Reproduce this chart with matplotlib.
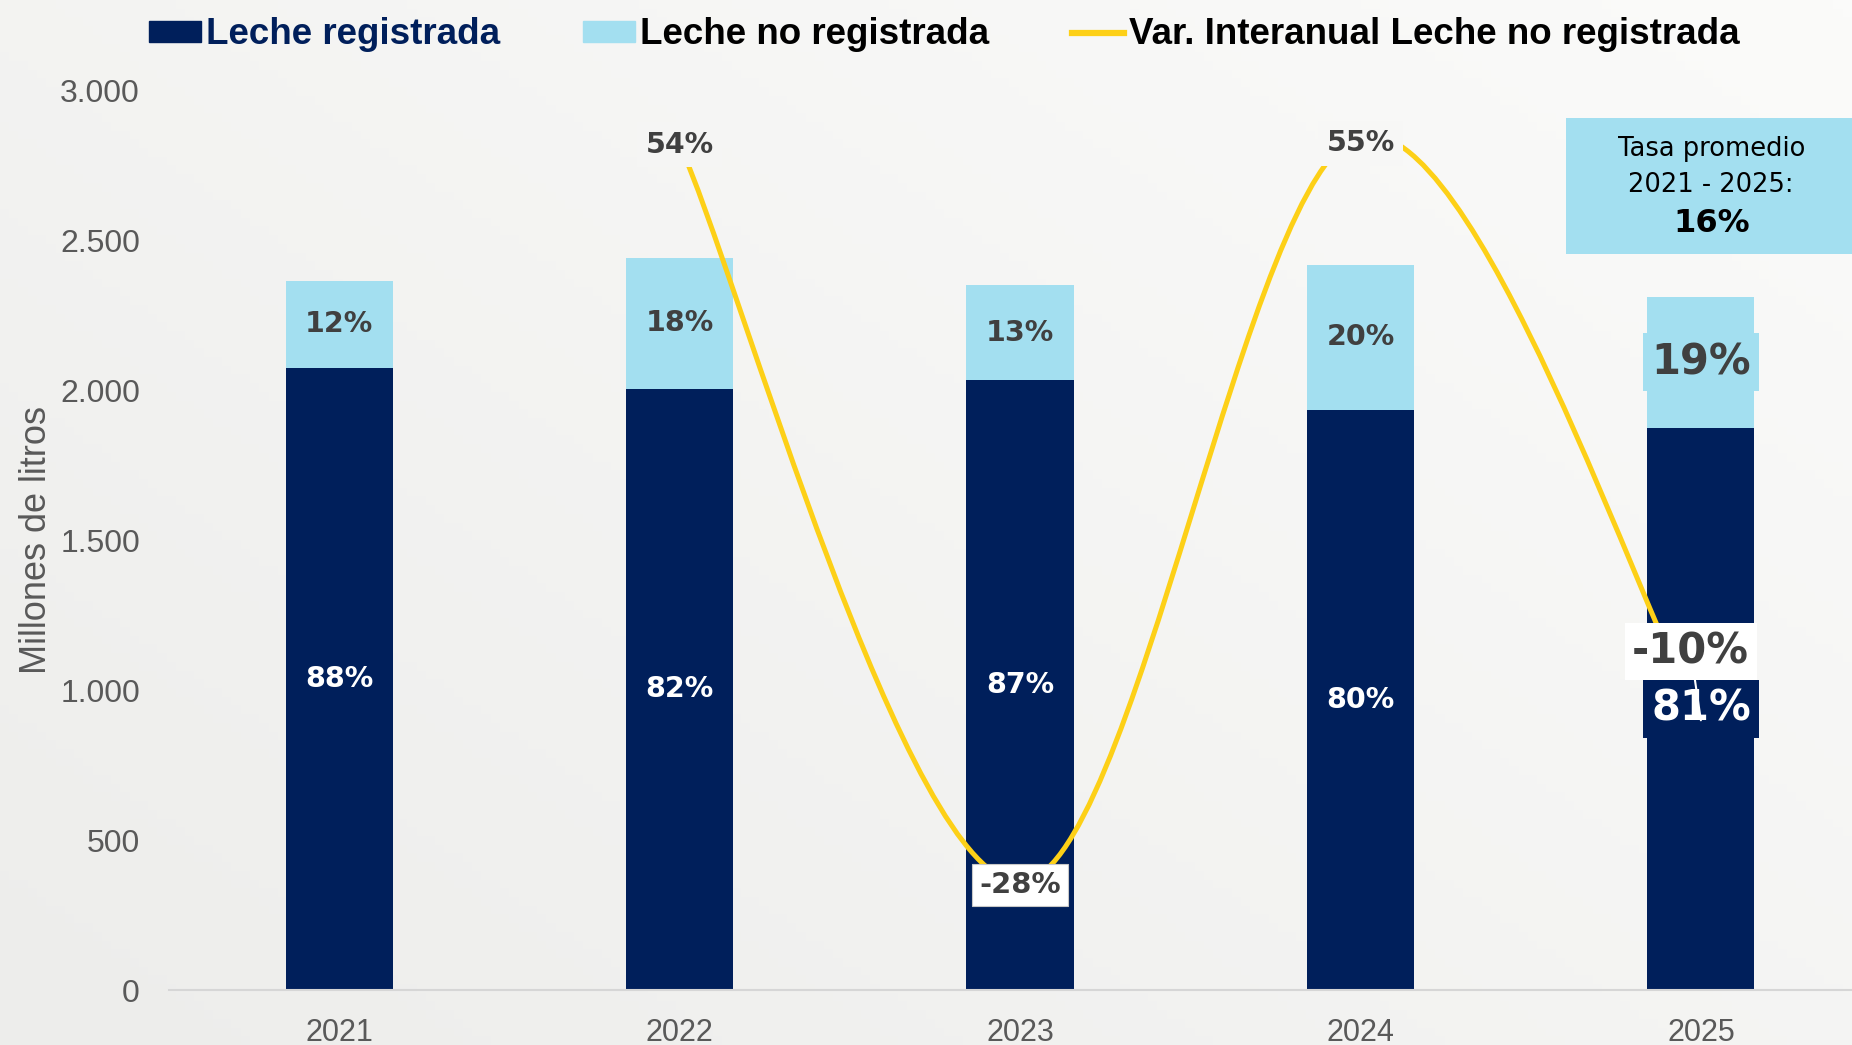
import matplotlib.pyplot as plt
from matplotlib.path import Path
from matplotlib.patches import PathPatch, Rectangle
from matplotlib.colors import LinearSegmentedColormap
from matplotlib.ticker import FuncFormatter
import numpy as np

# datos (millones de litros)
years = ['2021', '2022', '2023', '2024', '2025']
registrada = [2077, 2006, 2034, 1936, 1876]
no_registrada = [288, 438, 319, 484, 438]
pct_registrada = ['88%', '82%', '87%', '80%', '81%']
pct_no_registrada = ['12%', '18%', '13%', '20%', '19%']
var_years = [1, 2, 3, 4]
var_interanual = [54, -28, 55, -10]

NAVY = '#001f5b'
LIGHT = '#a3dff0'
YELLOW = '#fdd017'
GRAY = '#595959'
DARK = '#404040'
BG = '#f3f3f1'
LAB = 'DejaVu Sans'

fig = plt.figure(figsize=(18.52, 10.45), dpi=100)
fig.patch.set_facecolor(BG)

# fondo suave
bg = fig.add_axes([0, 0, 1, 1], zorder=-10)
gx, gy = np.meshgrid(np.linspace(0, 1, 200), np.linspace(0, 1, 120))
grad = np.clip(0.55 * gx + 0.45 * gy, 0, 1)
bg.imshow(grad, cmap=LinearSegmentedColormap.from_list('bg', ['#ededeb', '#fbfbfa']),
          extent=[0, 1, 0, 1], aspect='auto', origin='lower')
bg.axis('off')

ax = fig.add_axes([0.0913, 0.0526, 0.919, 0.8604])
ax.set_facecolor('none')
x = np.arange(len(years))
w = 0.315
ax.bar(x, registrada, w, color=NAVY, zorder=2)
ax.bar(x, no_registrada, w, bottom=registrada, color=LIGHT, zorder=2)

ax.set_xlim(-0.5, 4.5)
ax.set_ylim(0, 3000)
ax.set_yticks(range(0, 3001, 500))
ax.yaxis.set_major_formatter(FuncFormatter(lambda v, p: f'{int(v):,}'.replace(',', '.')))
ax.set_xticks(x)
ax.set_xticklabels(years)
ax.tick_params(axis='y', length=0, pad=21, labelsize=23, labelcolor=GRAY)
ax.tick_params(axis='x', length=0, pad=20, labelsize=22, labelcolor=GRAY)
for lbl in ax.get_xticklabels() + ax.get_yticklabels():
    lbl.set_family('Liberation Sans')
for s in ['top', 'right', 'left']:
    ax.spines[s].set_visible(False)
ax.spines['bottom'].set_color('#d6d6d6')
ax.spines['bottom'].set_linewidth(1.5)
ax.set_ylabel('Millones de litros', fontsize=26, color=GRAY, family='Liberation Sans', labelpad=4)

# línea suavizada (eje secundario)
ax2 = ax.twinx()
ax2.set_ylim(-40, 60)
ax2.axis('off')
pts = np.column_stack([var_years, var_interanual]).astype(float)
ext = np.vstack([pts[0], pts, pts[-1]])
verts = [tuple(pts[0])]
codes = [Path.MOVETO]
for k in range(1, len(ext) - 2):
    p0, p1, p2, p3 = ext[k - 1], ext[k], ext[k + 1], ext[k + 2]
    verts += [tuple(p1 + (p2 - p0) / 6), tuple(p2 - (p3 - p1) / 6), tuple(p2)]
    codes += [Path.CURVE4] * 3
ax2.add_patch(PathPatch(Path(verts, codes), fc='none', ec=YELLOW, lw=3.6, zorder=3,
                        capstyle='round'))

# etiquetas de barras
for i in range(len(years)):
    yr = registrada[i] / 2
    yn = registrada[i] + no_registrada[i] / 2
    if i == 4:
        ax2.text(x[i], yn, pct_no_registrada[i], ha='center', va='center', fontsize=30,
                 fontweight='bold', color=DARK, family=LAB, zorder=4, transform=ax.transData,
                 bbox=dict(boxstyle='square,pad=0.2', fc=LIGHT, ec='none'))
        ax2.text(x[i], yr, pct_registrada[i], ha='center', va='center', fontsize=30,
                 fontweight='bold', color='white', family=LAB, zorder=4, transform=ax.transData,
                 bbox=dict(boxstyle='square,pad=0.2', fc=NAVY, ec='none'))
    else:
        ax.text(x[i], yn, pct_no_registrada[i], ha='center', va='center', fontsize=20.5,
                fontweight='bold', color=DARK, family=LAB, zorder=4)
        ax.text(x[i], yr, pct_registrada[i], ha='center', va='center', fontsize=20.5,
                fontweight='bold', color='white', family=LAB, zorder=4)

ax2.text(1, 54, '54%', ha='center', va='center', fontsize=20.5, fontweight='bold',
         color=DARK, family=LAB, zorder=5,
         bbox=dict(boxstyle='square,pad=0.3', fc='#f5f5f4', ec='none'))
ax2.text(3, 54.2, '55%', ha='center', va='center', fontsize=20.5, fontweight='bold',
         color=DARK, family=LAB, zorder=5,
         bbox=dict(boxstyle='square,pad=0.3', fc='#f7f7f6', ec='none'))
ax2.text(2, -28.3, '-28%', ha='center', va='center', fontsize=21, fontweight='bold',
         color=DARK, family=LAB, zorder=5,
         bbox=dict(boxstyle='square,pad=0.25', fc='white', ec='#c8c8c8', lw=0.8))
ax2.annotate('-10%', xy=(4, -10), xytext=(3.97, -2.3), ha='center', va='center',
             fontsize=30, fontweight='bold', color=DARK, family=LAB, zorder=6,
             bbox=dict(boxstyle='square,pad=0.18', fc='white', ec='none'),
             arrowprops=dict(arrowstyle='-', color='white', lw=1.5, shrinkA=0, shrinkB=0))

# recuadro tasa promedio
fig.patches.append(Rectangle((0.8456, 0.757), 0.16, 0.130, transform=fig.transFigure,
                             fc=LIGHT, ec='none', zorder=5))
fig.text(0.924, 0.857, 'Tasa promedio', ha='center', va='center', fontsize=18.5,
         family=LAB, color='black', zorder=6)
fig.text(0.924, 0.823, '2021 - 2025:', ha='center', va='center', fontsize=18.5,
         family=LAB, color='black', zorder=6)
fig.text(0.924, 0.786, '16%', ha='center', va='center', fontsize=23, fontweight='bold',
         family=LAB, color='black', zorder=6)

# leyenda
h1 = Rectangle((0, 0), 1, 1, color=NAVY)
h2 = Rectangle((0, 0), 1, 1, color=LIGHT)
h3 = plt.Line2D([], [], color=YELLOW, lw=4.5)
leg = fig.legend([h1, h2, h3], ['Leche registrada', 'Leche no registrada',
                                'Var. Interanual Leche no registrada'],
                 loc='upper center', bbox_to_anchor=(0.510, 1.015), ncol=3, frameon=False,
                 prop={'family': 'Liberation Sans', 'weight': 'bold', 'size': 26.5},
                 handlelength=1.4, handleheight=0.5, handletextpad=0.15, columnspacing=2.25)
leg.get_texts()[0].set_color(NAVY)

fig.savefig('out.png', dpi=100, facecolor=fig.get_facecolor())
plt.close()
